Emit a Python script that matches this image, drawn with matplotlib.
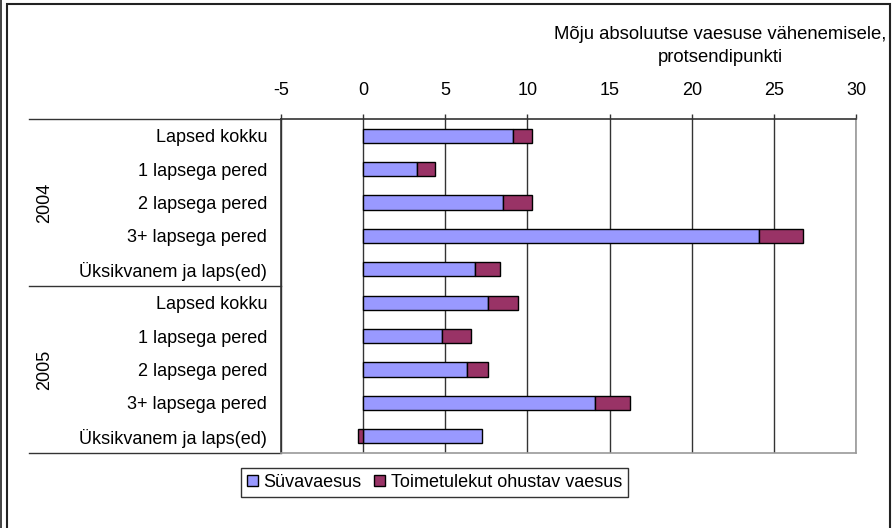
import matplotlib.pyplot as plt
from matplotlib.patches import Rectangle
from matplotlib.lines import Line2D
import numpy as np

plt.rcParams['font.family'] = ['Liberation Sans', 'DejaVu Sans']

# data
categories = ['Lapsed kokku', '1 lapsega pered', '2 lapsega pered',
              '3+ lapsega pered', 'Üksikvanem ja laps(ed)'] * 2
years = ['2004', '2005']
suvavaesus = [9.15, 3.3, 8.5, 24.1, 6.8,
              7.6, 4.8, 6.3, 14.1, 7.25]
toimetulek = [1.15, 1.05, 1.8, 2.7, 1.5,
              1.85, 1.75, 1.3, 2.15, -0.3]
xticks = [-5, 0, 5, 10, 15, 20, 25, 30]

W, H = 893, 528
FS = 13
fig = plt.figure(figsize=(W / 100, H / 100), dpi=100)

# plot area in pixels: x 281..856, y 119..453
ax = fig.add_axes([281 / W, 1 - 453 / H, 575 / W, 334 / H])

y = np.arange(len(categories))
suva = np.array(suvavaesus)
toim = np.array(toimetulek)
# negative segment starts from zero, positive stacks on the first series
left2 = np.where(toim < 0, 0, suva)

ax.barh(y, suva, height=0.42, color='#9999FF', edgecolor='black',
        linewidth=1, label='Süvavaesus', zorder=3)
ax.barh(y, toim, left=left2, height=0.42, color='#993366', edgecolor='black',
        linewidth=1, label='Toimetulekut ohustav vaesus', zorder=3)

ax.set_xlim(-5, 30)
ax.set_ylim(len(categories) - 0.5, -0.5)
ax.xaxis.tick_top()
ax.set_xticks(xticks)
ax.set_xticklabels([str(t) for t in xticks], fontsize=FS)
ax.tick_params(axis='x', direction='out', length=3.6, width=1, pad=11, color='#333333')
ax.set_yticks(y)
ax.set_yticklabels(categories, fontsize=FS)
ax.tick_params(axis='y', length=0, pad=10)
ax.grid(axis='x', color='#333333', linewidth=1, zorder=0)

ax.spines['top'].set_color('#333333')
ax.spines['left'].set_color('#333333')
ax.spines['right'].set_color('#999999')
ax.spines['bottom'].set_color('#999999')
for s in ax.spines.values():
    s.set_linewidth(1.2)

# group separators and year labels on the left
x0 = (29 - 281) / 575
for yy in [-0.5, 4.5, 9.5]:
    ax.add_line(Line2D([x0, 0], [yy, yy], transform=ax.get_yaxis_transform(),
                       color='#333333', linewidth=1, clip_on=False))
for i, yr in enumerate(years):
    ax.text((45 - 281) / 575, 2 + 5 * i, yr, transform=ax.get_yaxis_transform(),
            rotation=90, ha='center', va='center', fontsize=FS)

fig.text(720 / W, 1 - 46 / H, 'Mõju absoluutse vaesuse vähenemisele,\nprotsendipunkti',
         ha='center', va='center', fontsize=13.3, linespacing=1.45)

leg = fig.legend(loc='center', bbox_to_anchor=(434.5 / W, 1 - 482.5 / H), ncol=2,
                 fontsize=FS, frameon=True, fancybox=False, edgecolor='black',
                 handlelength=0.6, handleheight=0.6, handletextpad=0.3,
                 columnspacing=0.7, borderpad=0.35, borderaxespad=0)
leg.get_frame().set_linewidth(1)

# outer chart border (bottom edge falls outside the image)
fig.add_artist(Rectangle((7 / W, -10 / H), 883 / W, (H + 10 - 4) / H,
                         transform=fig.transFigure, fill=False,
                         edgecolor='#222222', linewidth=1.5))
fig.add_artist(Line2D([0.6 / W, 0.6 / W], [0, 1], transform=fig.transFigure,
                      color='#222222', linewidth=1.2))

fig.savefig('out.png', dpi=100)
